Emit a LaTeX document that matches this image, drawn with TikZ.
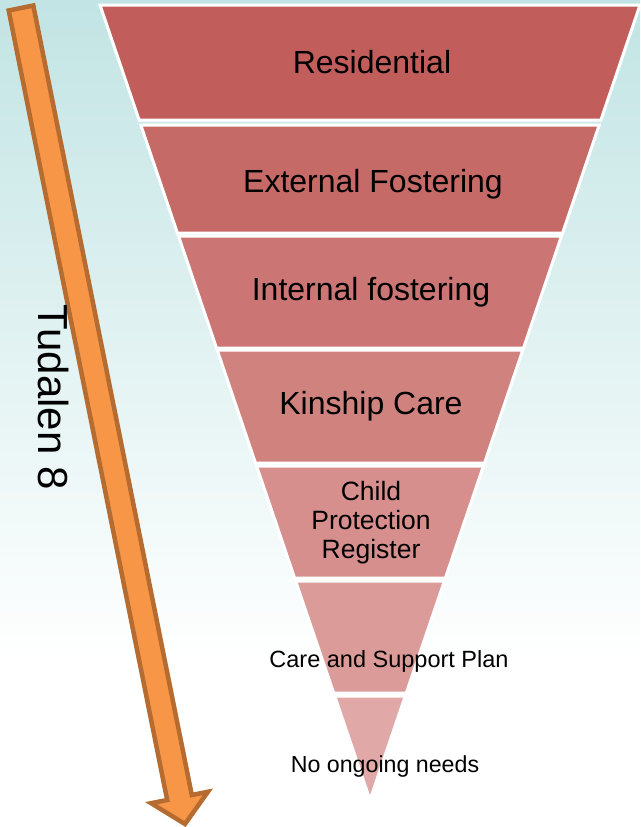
\documentclass[tikz,border=0pt]{standalone}
\usepackage{fontspec}
\setmainfont{Liberation Sans}

\definecolor{bgteal}{RGB}{194,228,228}
\definecolor{arrowfill}{RGB}{247,150,70}
\definecolor{arrowline}{RGB}{182,108,48}
\definecolor{bandA}{RGB}{193,94,91}
\definecolor{bandB}{RGB}{197,106,103}
\definecolor{bandC}{RGB}{203,118,116}
\definecolor{bandD}{RGB}{208,130,127}
\definecolor{bandE}{RGB}{214,143,141}
\definecolor{bandF}{RGB}{219,155,153}
\definecolor{bandG}{RGB}{224,168,167}

\tikzset{
  band/.style={draw=white, line width=3pt, line join=miter},
  big/.style={font=\fontsize{32}{38}\selectfont},
  small/.style={font=\fontsize{23.5}{28}\selectfont}
}

\begin{document}
\begin{tikzpicture}[x=1pt,y=-1pt]

% background
\useasboundingbox (0,0) rectangle (640,827);
\fill[white] (0,0) rectangle (640,827);
\shade[top color=bgteal, bottom color=white, middle color=bgteal!50] (0,0) rectangle (640,660);

% funnel
\filldraw[band, fill=bandA] (100,5) -- (640,5) -- (600.9,120) -- (139.1,120) -- cycle;
\filldraw[band, fill=bandB] (140.8,125) -- (599.2,125) -- (562.6,233) -- (177.4,233) -- cycle;
\filldraw[band, fill=bandC] (178.5,236) -- (561.5,236) -- (523.5,348) -- (216.5,348) -- cycle;
\filldraw[band, fill=bandD] (217.2,350) -- (522.8,350) -- (484.5,463) -- (255.5,463) -- cycle;
\filldraw[band, fill=bandE] (256.6,466) -- (483.4,466) -- (445.4,578) -- (294.6,578) -- cycle;
\filldraw[band, fill=bandF] (295.6,581) -- (444.4,581) -- (406.3,693) -- (333.7,693) -- cycle;
\filldraw[band, fill=bandG] (334.7,696) -- (405.3,696) -- (370,800) -- cycle;

% labels
\node[big] (res) at (372,62) {Residential};
\node[big] (ext) at (373,184) {External Fostering};
\node[big] (int) at (371,292) {Internal fostering};
\node[big] (kin) at (371,406) {Kinship Care};
\node[font=\fontsize{26.5}{29}\selectfont, align=center] (cpr) at (371,523) {Child\\Protection\\Register};
\node[small] (csp) at (389,661) {Care and Support Plan};
\node[font=\fontsize{23.2}{27}\selectfont] (none) at (385,766) {No ongoing needs};

% arrow
\filldraw[fill=arrowfill, draw=arrowline, line width=4.5pt, line join=miter]
  (8.7,10.5) -- (167.2,800) -- (151.1,803.2) -- (185,824)
  -- (207.9,791.8) -- (191.8,795) -- (33.3,5.5) -- cycle;
\node[font=\fontsize{42}{48}\selectfont, rotate=-90] (page) at (54,397) {Tudalen 8};

\end{tikzpicture}
\end{document}
